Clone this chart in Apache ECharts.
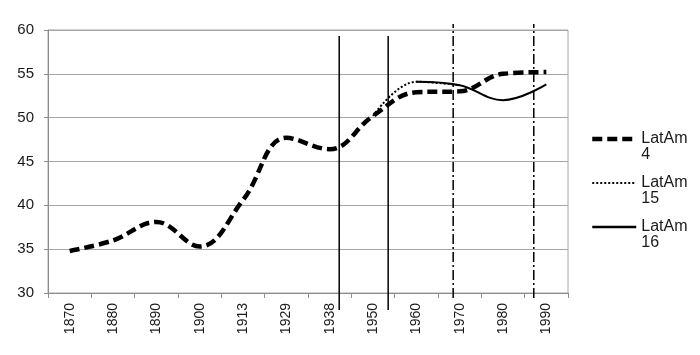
<!DOCTYPE html>
<html>
<head>
<meta charset="utf-8">
<script src="https://cdn.jsdelivr.net/npm/echarts@6/dist/echarts.min.js"></script>
<style>
html,body{margin:0;padding:0;background:#fff;}
#chart{width:700px;height:355px;}
</style>
</head>
<body>
<div id="chart"></div>
<script>
var categories = ['1870','1880','1890','1900','1913','1929','1938','1950','1960','1970','1980','1990'];
var latAm4  = [34.8, 36.0, 38.1, 35.3, 40.6, 47.7, 46.4, 50.2, 52.9, 53.0, 55.0, 55.2];
var latAm15 = [null, null, null, null, null, null, null, 50.2, 54.1, 53.7, null, null];
var latAm16 = [null, null, null, null, null, null, null, null, 54.1, 53.7, 52.0, 53.8];
var yTicks = [30, 35, 40, 45, 50, 55, 60];
// vertical reference lines: position in category units, [bottom, top] in y units
var solidMarkers = [6.22, 7.35];
var dashDotMarkers = [8.85, 10.71];
var solidSpan = [28.06, 59.31];
var dashDotSpan = [29.43, 60.68];

var FONT = 'Liberation Sans, Arial, sans-serif';
var chart = echarts.init(document.getElementById('chart'), null, {renderer: 'canvas'});

var series = [
  {
    name: 'LatAm 4', type: 'line', data: latAm4, smooth: 0.4, symbol: 'none',
    lineStyle: {color: '#000', width: 4.5, type: [10, 5], cap: 'butt'}, itemStyle: {color: '#000'}, z: 3
  },
  {
    name: 'LatAm 15', type: 'line', data: latAm15, smooth: 0.4, symbol: 'none',
    lineStyle: {color: '#000', width: 2, type: [2, 2]}, itemStyle: {color: '#000'}, z: 2
  },
  {
    name: 'LatAm 16', type: 'line', data: latAm16, smooth: 0.4, symbol: 'none',
    lineStyle: {color: '#000', width: 2, type: 'solid'}, itemStyle: {color: '#000'}, z: 2
  }
];
solidMarkers.forEach(function (x, i) {
  series.push({
    name: 'vs' + i, type: 'line', xAxisIndex: 1, yAxisIndex: 0, clip: false, symbol: 'none', silent: true,
    data: [[x, solidSpan[0]], [x, solidSpan[1]]],
    lineStyle: {color: '#000', width: 1.5, type: 'solid'}, z: 4
  });
});
dashDotMarkers.forEach(function (x, i) {
  series.push({
    name: 'vd' + i, type: 'line', xAxisIndex: 1, yAxisIndex: 0, clip: false, symbol: 'none', silent: true,
    data: [[x, dashDotSpan[0]], [x, dashDotSpan[1]]],
    lineStyle: {color: '#000', width: 1.5, type: [10, 3, 2, 3]}, z: 4
  });
});

chart.setOption({
  animation: false,
  backgroundColor: '#fff',
  grid: {left: 48, right: 132, top: 30, bottom: 62, show: true, borderColor: '#a6a6a6', borderWidth: 1},
  legend: {
    data: [
      {name: 'LatAm 4', lineStyle: {width: 4.5}},
      {name: 'LatAm 15', lineStyle: {width: 2}},
      {name: 'LatAm 16', lineStyle: {width: 2.5}}
    ],
    orient: 'vertical', left: 590, top: 115, padding: 0,
    itemWidth: 44, itemHeight: 14, itemGap: -4,
    itemStyle: {opacity: 0},
    formatter: function (n) { return ' \n' + n.replace(' ', '\n'); },
    textStyle: {fontFamily: FONT, fontSize: 16, color: '#1a1a1a', lineHeight: 16}
  },
  xAxis: [
    {
      type: 'category', data: categories, boundaryGap: true,
      axisLine: {lineStyle: {color: '#8c8c8c'}},
      axisTick: {show: true, length: 5, alignWithLabel: false, lineStyle: {color: '#8c8c8c'}},
      axisLabel: {rotate: 90, fontFamily: FONT, fontSize: 14, color: '#1a1a1a', margin: 10, interval: 0},
      splitLine: {show: false}
    },
    {
      type: 'value', min: -0.5, max: 11.5, show: false
    }
  ],
  yAxis: {
    type: 'value', min: yTicks[0], max: yTicks[yTicks.length - 1], interval: 5,
    axisLine: {show: true, onZero: false, lineStyle: {color: '#8c8c8c'}},
    axisTick: {show: true, length: 4, lineStyle: {color: '#8c8c8c'}},
    axisLabel: {fontFamily: FONT, fontSize: 15, color: '#1a1a1a', margin: 14},
    splitLine: {lineStyle: {color: '#a6a6a6', width: 1}}
  },
  series: series
});
</script>
</body>
</html>
